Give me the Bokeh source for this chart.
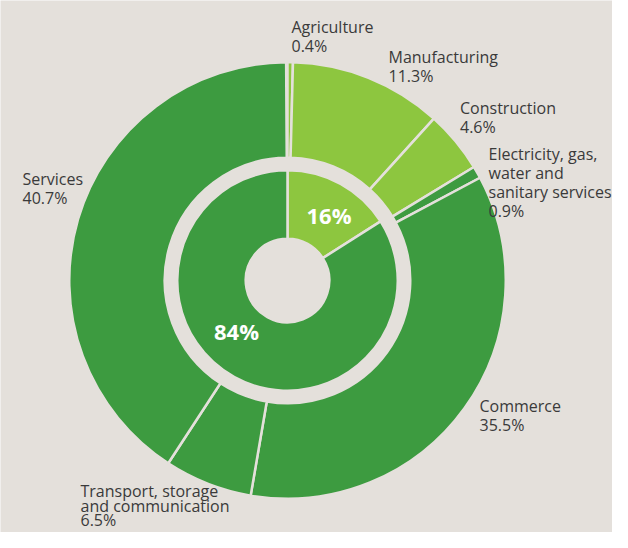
import numpy as np
from bokeh.plotting import figure
from bokeh.models import Range1d, ColumnDataSource
from bokeh.core.properties import value
from bokeh.embed import file_html
from bokeh.resources import INLINE

# ---- data ----
sectors = ["Agriculture", "Manufacturing", "Construction",
           "Electricity, gas,\nwater and\nsanitary services",
           "Commerce", "Transport, storage\nand communication", "Services"]
shares = [0.4, 11.3, 4.6, 0.9, 35.5, 6.5, 40.7]
sector_group = ["light", "light", "light", "dark", "dark", "dark", "dark"]

inner_labels = ["16%", "84%"]
inner_shares = [16, 84]
inner_group = ["light", "dark"]

# ---- style / layout ----
BG = "#e4e0db"
COLORS = {"dark": "#3d9b40", "light": "#8dc63f"}
TEXT = "#3a3a3a"
W, H = 612, 532
CX, CY = 287, -280          # picture pixel coords (y flipped)
SEP = 2.5
R_OUT_OUTER, R_OUT_INNER = 217 + SEP / 2, 124 - SEP / 2
R_IN_OUTER, R_IN_INNER = 109 + SEP / 2, 43 - SEP / 2
DY = 6.5                    # baseline correction of the text glyph
# (x, first baseline, line spacing)
label_layout = [(291, 33, 19), (388, 62.5, 19), (459.5, 113.5, 19), (488, 159.5, 19),
                (479, 411.7, 19), (80, 497, 14.5), (22, 184.5, 19)]
inner_layout = [(328.5, 221), (236, 336.7)]

p = figure(width=W, height=H, x_range=Range1d(0, W), y_range=Range1d(-H, 0),
           output_backend="svg", toolbar_location=None, min_border=0,
           x_axis_type=None, y_axis_type=None,
           background_fill_color=BG, border_fill_color=BG, outline_line_color=None)
p.grid.visible = False


def wedges(vals):
    cw = np.cumsum([0] + list(vals)) * 3.6
    start = np.deg2rad(90 - cw[1:])
    end = np.deg2rad(90 - cw[:-1])
    return start, end


s, e = wedges(shares)
outer_src = ColumnDataSource(dict(start=s, end=e,
                                  color=[COLORS[g] for g in sector_group]))
p.annular_wedge(x=CX, y=CY, inner_radius=R_OUT_INNER, outer_radius=R_OUT_OUTER,
                start_angle="start", end_angle="end", source=outer_src,
                fill_color="color", line_color=BG, line_width=SEP)

s, e = wedges(inner_shares)
inner_src = ColumnDataSource(dict(start=s, end=e,
                                  color=[COLORS[g] for g in inner_group]))
p.annular_wedge(x=CX, y=CY, inner_radius=R_IN_INNER, outer_radius=R_IN_OUTER,
                start_angle="start", end_angle="end", source=inner_src,
                fill_color="color", line_color=BG, line_width=SEP)

# outer labels
xs, ys, ts = [], [], []
for name, v, (lx, ly, ls) in zip(sectors, shares, label_layout):
    lines = name.split("\n") + [f"{v}%"]
    for i, t in enumerate(lines):
        xs.append(lx)
        ys.append(-(ly - DY + i * ls))
        ts.append(t)
p.text(x="x", y="y", text="t", source=ColumnDataSource(dict(x=xs, y=ys, t=ts)),
       text_font=value("Open Sans"), text_font_size="16px", text_color=TEXT,
       text_align="left", text_baseline="alphabetic")

# inner labels
p.text(x=[q[0] for q in inner_layout], y=[-(q[1] - DY) for q in inner_layout],
       text=inner_labels,
       text_font=value("Open Sans"), text_font_style="bold", text_font_size="22px",
       text_color="white", text_align="center", text_baseline="alphabetic")

open("out.html", "w").write(file_html(p, INLINE))
